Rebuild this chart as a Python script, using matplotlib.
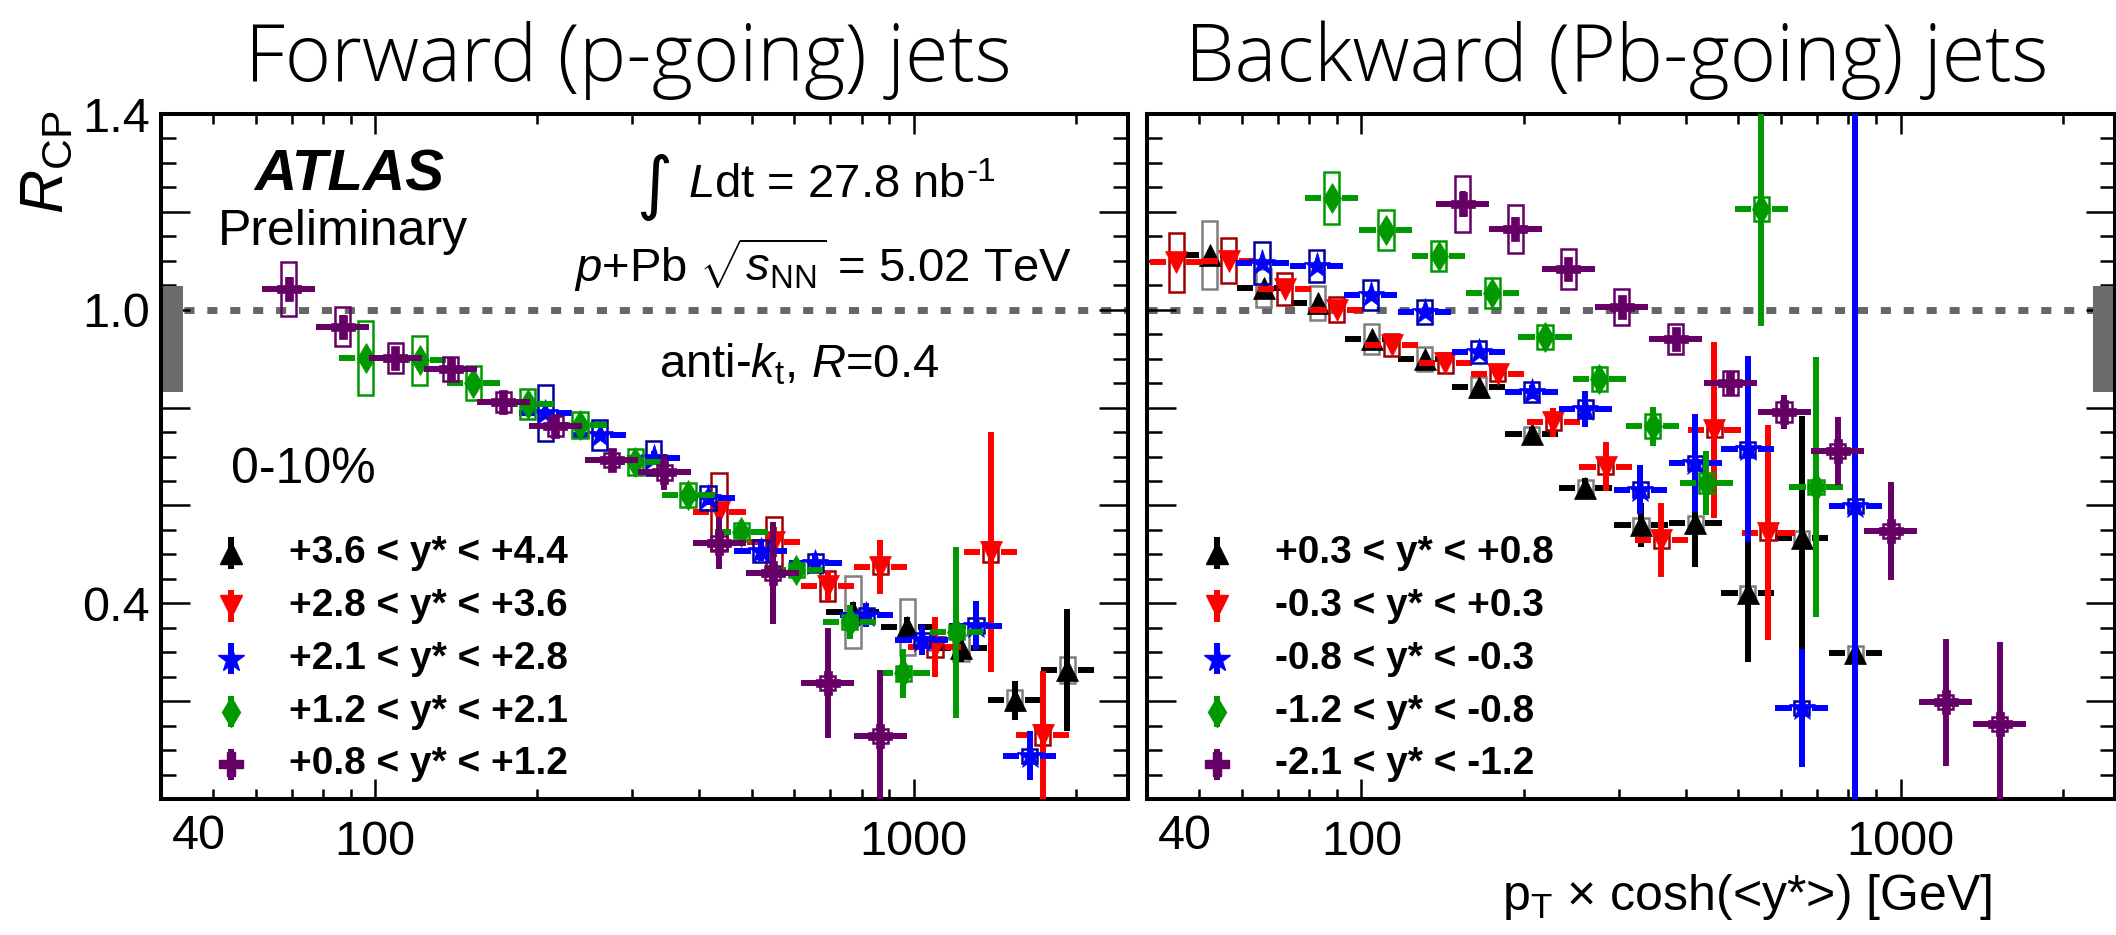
import matplotlib
matplotlib.use("Agg")
import matplotlib.pyplot as plt
import matplotlib.transforms as mtransforms
from matplotlib.patches import Rectangle
from matplotlib.ticker import LogLocator, MultipleLocator, FuncFormatter, NullFormatter

plt.rcParams['font.family'] = ['Liberation Sans', 'DejaVu Sans']
plt.rcParams['mathtext.fontset'] = 'custom'
plt.rcParams['mathtext.rm'] = 'Liberation Sans'
plt.rcParams['mathtext.it'] = 'Liberation Sans:italic'
plt.rcParams['mathtext.bf'] = 'Liberation Sans:bold'

# forward (p-going) jets: black, red, blue, green, purple
fwd_labels = ['+3.6 < y* < +4.4', '+2.8 < y* < +3.6', '+2.1 < y* < +2.8',
              '+1.2 < y* < +2.1', '+0.8 < y* < +1.2']
fwd_pt = [
    [771, 973, 1224, 1540, 1929],
    [435, 550, 692, 867, 1095, 1389, 1735],
    [207, 261, 329, 415, 520, 656, 817, 1036, 1305, 1641],
    [96, 121, 152, 192, 240, 304, 381, 478, 605, 760, 956, 1200],
    [69, 87, 109, 138, 173, 216, 275, 344, 435, 547, 692, 867],
]
fwd_r = [
    [0.382, 0.352, 0.309, 0.202, 0.264],
    [0.587, 0.525, 0.435, 0.474, 0.311, 0.505, 0.131],
    [0.789, 0.744, 0.697, 0.615, 0.507, 0.482, 0.376, 0.325, 0.354, 0.088],
    [0.901, 0.897, 0.850, 0.807, 0.764, 0.689, 0.621, 0.546, 0.468, 0.362, 0.257, 0.341],
    [1.042, 0.965, 0.901, 0.879, 0.811, 0.762, 0.693, 0.668, 0.523, 0.462, 0.237, 0.129],
]
fwd_stat = [
    [0.02, 0.02, 0.03, 0.04, 0.124],
    [0.02, 0.03, 0.03, 0.055, 0.061, 0.245, 0.13],
    [0.01, 0.01, 0.015, 0.015, 0.02, 0.02, 0.025, 0.03, 0.05, 0.05],
    [0.01, 0.01, 0.01, 0.01, 0.01, 0.01, 0.012, 0.015, 0.02, 0.035, 0.05, 0.175],
    [0.025, 0.025, 0.02, 0.02, 0.02, 0.02, 0.02, 0.037, 0.053, 0.105, 0.112, 0.135],
]
fwd_sys = [
    [0.074, 0.057, 0.027, 0.02, 0.027],
    [0.08, 0.052, 0.03, 0.015, 0.02, 0.02, 0.02],
    [0.058, 0.03, 0.035, 0.025, 0.022, 0.018, 0.015, 0.015, 0.015, 0.015],
    [0.075, 0.05, 0.035, 0.03, 0.027, 0.027, 0.024, 0.018, 0.015, 0.015, 0.015, 0.015],
    [0.055, 0.04, 0.03, 0.025, 0.02, 0.02, 0.015, 0.015, 0.015, 0.015, 0.015, 0.015],
]

# backward (Pb-going) jets
bwd_labels = ['+0.3 < y* < +0.8', '-0.3 < y* < +0.3', '-0.8 < y* < -0.3',
              '-1.2 < y* < -0.8', '-2.1 < y* < -1.2']
bwd_pt = [
    [52.3, 65.8, 82.9, 104.4, 131, 165, 207, 260, 330, 416, 521, 656, 825],
    [45.3, 56.7, 72.0, 90, 113.7, 143, 179, 227, 284, 360, 451, 568],
    [65.4, 82.6, 104, 131, 165, 207, 260, 329, 416, 521, 656, 825],
    [88, 111, 139, 175, 219, 276, 347, 436, 552, 697],
    [154, 193, 242, 304, 383, 483, 608, 765, 960, 1213, 1527],
]
bwd_r = [
    [1.112, 1.044, 1.014, 0.940, 0.899, 0.842, 0.746, 0.636, 0.560, 0.564, 0.421, 0.533, 0.298],
    [1.097, 1.100, 1.042, 1.0, 0.928, 0.891, 0.869, 0.770, 0.679, 0.529, 0.754, 0.544],
    [1.096, 1.09, 1.03, 0.995, 0.914, 0.832, 0.797, 0.632, 0.687, 0.715, 0.186, 0.599],
    [1.228, 1.163, 1.110, 1.034, 0.944, 0.858, 0.762, 0.646, 1.206, 0.638],
    [1.216, 1.165, 1.083, 1.006, 0.940, 0.850, 0.791, 0.711, 0.548, 0.198, 0.153],
]
bwd_stat = [
    [0.01, 0.01, 0.01, 0.01, 0.01, 0.01, 0.015, 0.02, 0.045, 0.09, 0.14, 0.25, 0.15],
    [0.01, 0.01, 0.01, 0.01, 0.01, 0.01, 0.015, 0.03, 0.05, 0.076, 0.18, 0.22],
    [0.01, 0.01, 0.01, 0.01, 0.01, 0.015, 0.036, 0.05, 0.1, 0.19, 0.12, 0.9],
    [0.015, 0.015, 0.015, 0.015, 0.015, 0.027, 0.04, 0.066, 0.24, 0.265],
    [0.026, 0.025, 0.02, 0.02, 0.015, 0.02, 0.035, 0.07, 0.1, 0.13, 0.167],
]
bwd_sys = [
    [0.07, 0.039, 0.035, 0.031, 0.025, 0.02, 0.015, 0.015, 0.015, 0.015, 0.015, 0.015, 0.015],
    [0.06, 0.046, 0.033, 0.025, 0.022, 0.02, 0.015, 0.015, 0.015, 0.015, 0.015, 0.015],
    [0.043, 0.033, 0.03, 0.025, 0.022, 0.02, 0.018, 0.015, 0.015, 0.015, 0.015, 0.015],
    [0.053, 0.041, 0.031, 0.03, 0.025, 0.025, 0.025, 0.02, 0.025, 0.015],
    [0.057, 0.049, 0.041, 0.037, 0.031, 0.025, 0.02, 0.015, 0.015, 0.015, 0.015],
]

# normalisation uncertainty band around unity
norm_lo, norm_hi = 0.831, 1.049

colors = ['black', '#ff0000', '#0000ff', '#009900', '#660066']
box_colors = ['#7f7f7f', '#a00000', '#0000a0', '#009900', '#660066']
markers = ['^', 'v', '*', 'd', 'P']
msizes = [16, 16, 20, 15, 17]

BIN_HALF = 1.12   # bins are equal width in log(pT)
GAP = 1.045       # gap left around the marker in the horizontal bar
BOX_HALF = 1.033  # half width of systematic boxes
LW = 4.3


def draw_series(ax, pt, r, stat, sys, i):
    c = colors[i]
    z = 3 + i
    for x, y, s in zip(pt, r, sys):
        ax.add_patch(Rectangle((x / BOX_HALF, y - s), x * BOX_HALF - x / BOX_HALF, 2 * s,
                               fill=False, edgecolor=box_colors[i], lw=1.8, zorder=z))
        ax.plot([x / BIN_HALF, x / GAP], [y, y], color=c, lw=LW, solid_capstyle='butt', zorder=z)
        ax.plot([x * GAP, x * BIN_HALF], [y, y], color=c, lw=LW, solid_capstyle='butt', zorder=z)
    ax.errorbar(pt, r, yerr=stat, fmt=markers[i], color=c, ms=msizes[i], mec=c, mew=0.5,
                elinewidth=LW, capsize=0, zorder=z + 0.5)


def draw_legend(ax, labels):
    for i, lab in enumerate(labels):
        fy = 0.359 - i * 0.0771
        ax.plot([0.0725, 0.0725], [fy - 0.023, fy + 0.023], color=colors[i], lw=LW,
                transform=ax.transAxes, zorder=10, solid_capstyle='butt')
        ax.plot([0.0725], [fy], marker=markers[i], color=colors[i], ms=msizes[i],
                transform=ax.transAxes, zorder=11)
        ax.text(0.132, fy - 0.0146, lab, transform=ax.transAxes, va='baseline', ha='left',
                fontsize=28, fontweight='bold')


def style_axis(ax, band_x):
    ax.set_xscale('log')
    ax.set_xlim(40, 2500)
    ax.set_ylim(0, 1.4)
    ax.xaxis.set_major_locator(LogLocator(base=10))
    ax.xaxis.set_minor_locator(LogLocator(base=10, subs=range(2, 10)))
    ax.xaxis.set_major_formatter(FuncFormatter(lambda v, p: '%d' % round(v)))
    ax.xaxis.set_minor_formatter(NullFormatter())
    ax.yaxis.set_major_locator(MultipleLocator(0.2))
    ax.yaxis.set_minor_locator(MultipleLocator(0.05))
    for sp in ax.spines.values():
        sp.set_linewidth(2.9)
    ax.tick_params(which='both', direction='in', top=True, right=True, width=1.8)
    ax.tick_params(axis='x', which='major', length=14.5, labelsize=35, pad=15)
    ax.tick_params(axis='x', which='minor', length=7.2)
    ax.tick_params(axis='y', which='major', length=21, labelsize=35, pad=8)
    ax.tick_params(axis='y', which='minor', length=11)
    ax.axhline(1.0, color='#666666', lw=5, dashes=(1.45, 1.85), zorder=1)
    trans = mtransforms.blended_transform_factory(ax.transAxes, ax.transData)
    ax.add_patch(Rectangle((band_x, norm_lo), 0.023, norm_hi - norm_lo, transform=trans,
                           color='#6b6b6b', lw=0, zorder=2, clip_on=False))
    ax.annotate('40', xy=(40, 0), xycoords=('data', 'axes fraction'), xytext=(27, -10.8),
                textcoords='offset points', ha='center', va='top', fontsize=35)


fig = plt.figure(figsize=(21.16, 9.35), dpi=100)
axL = fig.add_axes([0.07609, 0.14545, 0.45699, 0.73262])
axR = fig.add_axes([0.54206, 0.14545, 0.45747, 0.73262])

style_axis(axL, 0.0)
style_axis(axR, 0.977)

for i in range(5):
    draw_series(axL, fwd_pt[i], fwd_r[i], fwd_stat[i], fwd_sys[i], i)
    draw_series(axR, bwd_pt[i], bwd_r[i], bwd_stat[i], bwd_sys[i], i)

axL.yaxis.set_major_formatter(FuncFormatter(
    lambda v, p: '%.1f' % v if round(v, 2) in (0.4, 1.0, 1.4) else ''))
axR.yaxis.set_major_formatter(NullFormatter())
axL.yaxis.get_major_ticks()[-1].label1.set_va('top')

draw_legend(axL, fwd_labels)
draw_legend(axR, bwd_labels)

# labels in the forward panel
axL.text(0.195, 0.889, 'ATLAS', transform=axL.transAxes, ha='center', va='baseline',
         fontsize=42, fontweight='bold', fontstyle='italic')
axL.text(0.188, 0.809, 'Preliminary', transform=axL.transAxes, ha='center', va='baseline',
         fontsize=36)
axL.text(0.510, 0.893, '\u222b', transform=axL.transAxes, ha='center', va='center',
         fontsize=50, family='DejaVu Sans')
lumi = axL.text(0.545, 0.879, r'$L$dt = 27.8 nb', transform=axL.transAxes, ha='left',
                va='baseline', fontsize=34)
axL.annotate('-1', xy=(1, 1), xycoords=lumi, xytext=(1, 4), textcoords='offset points',
             ha='left', va='top', fontsize=24)
axL.text(0.684, 0.755, r'$p$+Pb $\sqrt{s_{\rm NN}}$ = 5.02 TeV', transform=axL.transAxes,
         ha='center', va='baseline', fontsize=34)
axL.text(0.660, 0.615, r'anti-$k_{\rm t}$, $R$=0.4', transform=axL.transAxes, ha='center',
         va='baseline', fontsize=34)
axL.text(0.147, 0.461, '0-10%', transform=axL.transAxes, ha='center', va='baseline',
         fontsize=36)

fig.text(0.022, 0.826, r'$R_{\rm CP}$', rotation=90, ha='center', va='center', fontsize=44)
fig.text(0.9414, 0.0267, r'p$_{\rm T}$ $\times$ cosh(<y*>) [GeV]', ha='right', va='baseline',
         fontsize=36)

fig.text(0.2968, 0.9134, 'Forward (p-going) jets', ha='center', va='baseline',
         fontsize=57, family='Open Sans', fontweight='light')
fig.text(0.7642, 0.9134, 'Backward (Pb-going) jets', ha='center', va='baseline',
         fontsize=57, family='Open Sans', fontweight='light')

fig.savefig('out.png', dpi=100)
